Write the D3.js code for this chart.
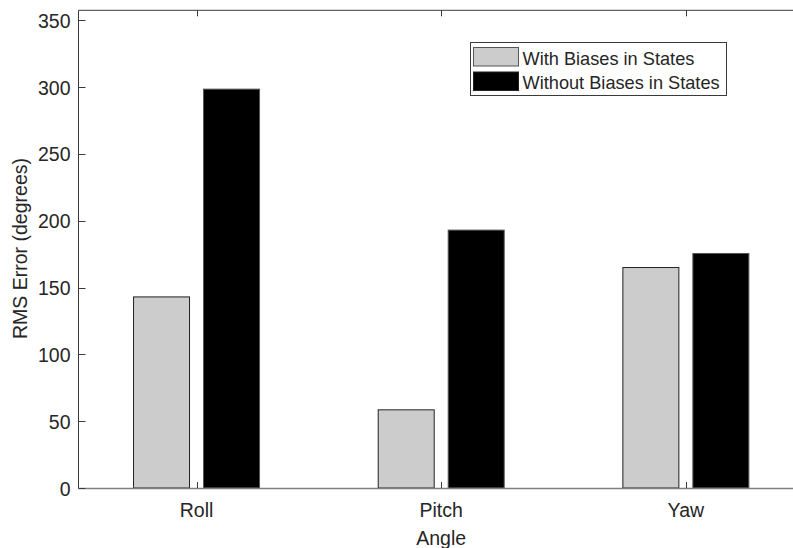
<!DOCTYPE html>
<html>
<head>
<meta charset="utf-8">
<script src="https://cdn.jsdelivr.net/npm/d3@7"></script>
<style>
  html, body { margin: 0; padding: 0; background: #fff; }
  svg { display: block; }
  text { font-family: "Liberation Sans", Arial, Helvetica, sans-serif; fill: #262626; }
</style>
</head>
<body>
<svg id="chart" width="793" height="548"></svg>
<script>
// ---- data ----
const categories = ["Roll", "Pitch", "Yaw"];
const seriesNames = ["With Biases in States", "Without Biases in States"];
const withBiases = [143, 58.5, 165];
const withoutBiases = [298.5, 193, 175.5];
const yTicks = [0, 50, 100, 150, 200, 250, 300, 350];
const yMax = 357.5;
const seriesColors = ["#cccccc", "#000000"];
const xLabel = "Angle";
const yLabel = "RMS Error (degrees)";

const svg = d3.select("#chart");
const W = 793, H = 548;
const axLeft = 78.5, axBottom = 488, axTop = 10.3;
const axisColor = "#3a3a3a";

const x = d3.scaleBand().domain(categories).range([74.2, 808.2]).paddingInner(0).paddingOuter(0);
const xs = d3.scaleBand().domain(seriesNames).range([-63, 63]).paddingInner(0.2).paddingOuter(0);
const y = d3.scaleLinear().domain([0, yMax]).range([axBottom, axTop]);

const rows = categories.map((c, i) => ({ cat: c, vals: [withBiases[i], withoutBiases[i]] }));

// bars
const g = svg.append("g");
rows.forEach(r => {
  r.vals.forEach((v, si) => {
    const cx = x(r.cat) + x.bandwidth() / 2;
    g.append("rect")
      .attr("x", cx + xs(seriesNames[si]))
      .attr("y", y(v))
      .attr("width", xs.bandwidth())
      .attr("height", y(0) - y(v))
      .attr("fill", seriesColors[si])
      .attr("stroke", si === 0 ? "#222" : "#555")
      .attr("stroke-width", 1);
  });
});

// axes frame lines
const frame = svg.append("g").attr("stroke", axisColor).attr("stroke-width", 1).attr("fill", "none");
frame.append("line").attr("x1", axLeft).attr("x2", axLeft).attr("y1", axTop).attr("y2", axBottom + 0.5);
frame.append("line").attr("x1", axLeft).attr("x2", W).attr("y1", axBottom + 0.5).attr("y2", axBottom + 0.5).attr("stroke", "#808080").attr("stroke-width", 1.3);
frame.append("line").attr("x1", axLeft).attr("x2", W).attr("y1", axTop).attr("y2", axTop);

// y ticks
yTicks.forEach(t => {
  const yy = Math.round(y(t)) + 0.5;
  frame.append("line").attr("x1", axLeft).attr("x2", axLeft + 7).attr("y1", yy).attr("y2", yy);
  svg.append("text")
    .attr("x", 70.5)
    .attr("y", y(t) + 7.5)
    .attr("text-anchor", "end")
    .attr("font-size", "19.5px")
    .text(t);
});

// x ticks
categories.forEach(c => {
  const xx = Math.round(x(c) + x.bandwidth() / 2) + 0.5;
  frame.append("line").attr("x1", xx).attr("x2", xx).attr("y1", axBottom).attr("y2", axBottom - 6);
  frame.append("line").attr("x1", xx).attr("x2", xx).attr("y1", axTop).attr("y2", axTop + 6);
  svg.append("text")
    .attr("x", x(c) + x.bandwidth() / 2)
    .attr("y", 516.5)
    .attr("text-anchor", "middle")
    .attr("font-size", "19.5px")
    .text(c);
});

// axis labels
svg.append("text")
  .attr("x", x("Pitch") + x.bandwidth() / 2)
  .attr("y", 545)
  .attr("text-anchor", "middle")
  .attr("font-size", "19.5px")
  .text(xLabel);

svg.append("text")
  .attr("transform", "translate(27,248.5) rotate(-90)")
  .attr("text-anchor", "middle")
  .attr("font-size", "19.5px")
  .text(yLabel);

// legend
const lg = svg.append("g");
lg.append("rect")
  .attr("x", 470.5).attr("y", 42.5).attr("width", 256).attr("height", 53)
  .attr("fill", "#fff").attr("stroke", "#3a3a3a").attr("stroke-width", 1);
const legendRowY = [47.5, 72];
seriesNames.forEach((s, i) => {
  lg.append("rect")
    .attr("x", 473.5).attr("y", legendRowY[i])
    .attr("width", 45).attr("height", 18.5)
    .attr("fill", seriesColors[i]).attr("stroke", i === 0 ? "#555" : "#222").attr("stroke-width", 1);
  lg.append("text")
    .attr("x", 522.5)
    .attr("y", [64.7, 88.7][i])
    .attr("font-size", "18.2px")
    .text(s);
});
</script>
</body>
</html>
